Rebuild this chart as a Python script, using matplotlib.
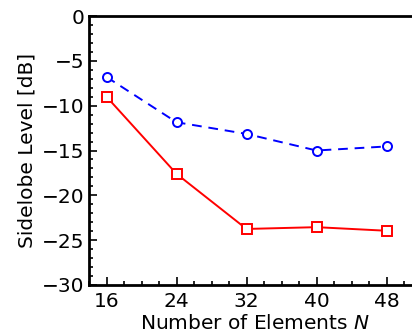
import numpy as np
import matplotlib
matplotlib.use("Agg")
from matplotlib import pyplot as plt
from matplotlib.ticker import MultipleLocator

# data
elements = [16, 24, 32, 40, 48]
sll_blue = [-6.8, -11.85, -13.15, -15.0, -14.55]
sll_red = [-9.0, -17.6, -23.75, -23.55, -23.95]

plt.rcParams['font.family'] = 'DejaVu Sans'
plt.rcParams['font.size'] = 14.5

fig = plt.figure(figsize=(4.12, 3.34), dpi=100)
ax = fig.add_axes([89/412, 49/334, 332.5/412, 269/334])

ax.plot(elements, sll_blue, color='blue', linestyle='--', linewidth=1.4,
        dashes=(5, 3.5), marker='o', markersize=6.5, markerfacecolor='white',
        markeredgecolor='blue', markeredgewidth=1.4)
ax.plot(elements, sll_red, color='red', linestyle='-', linewidth=1.4,
        marker='s', markersize=7, markerfacecolor='white',
        markeredgecolor='red', markeredgewidth=1.4)

ax.set_xlim(14, 52)
ax.set_ylim(-30, 0)
ax.set_xticks(elements)
ax.set_yticks([-30, -25, -20, -15, -10, -5, 0])
ax.xaxis.set_minor_locator(MultipleLocator(2))
ax.yaxis.set_minor_locator(MultipleLocator(1))
ax.tick_params(which='both', direction='in', top=False, right=False, width=1.2)
ax.tick_params(which='major', length=6)
ax.tick_params(which='minor', length=3)
ax.tick_params(axis='x', pad=5)
ax.tick_params(axis='y', pad=3)
for side in ['left', 'bottom', 'top']:
    ax.spines[side].set_linewidth(2)
ax.spines['right'].set_visible(False)

ax.set_xlabel('Number of Elements $N$', labelpad=2)
ax.set_ylabel('Sidelobe Level [dB]', labelpad=4)

fig.savefig('out.png', dpi=100)
